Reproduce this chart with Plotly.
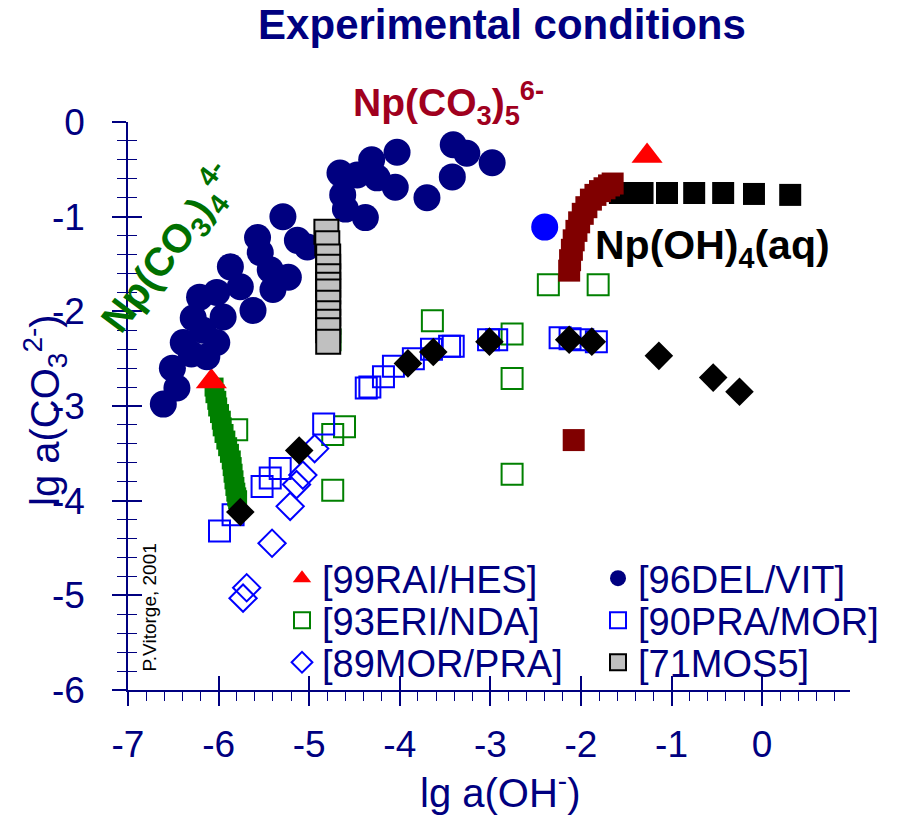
import plotly.graph_objects as go

# ---------------- data ----------------
del_vit_x = [-6.61, -6.46, -6.51, -6.39, -6.28, -6.21, -6.02, -6.02, -6.13, -5.95,
             -6.17, -6.30, -5.87, -5.76, -5.62, -5.57, -5.54, -5.40, -5.23, -5.43,
             -5.29, -5.13, -5.02, -4.66, -4.63, -4.60, -4.38, -4.31, -4.25, -4.47,
             -4.05, -4.03, -3.70, -3.41, -3.26, -3.42, -2.98]
del_vit_y = [-2.98, -2.81, -2.60, -2.33, -2.07, -1.85, -1.80, -2.33, -2.48, -2.06,
             -2.20, -2.45, -1.53, -1.74, -1.99, -1.22, -1.38, -1.77, -1.64, -1.56,
             -1.00, -1.25, -1.32, -0.54, -0.77, -0.92, -1.01, -0.40, -0.59, -0.56,
             -0.69, -0.32, -0.80, -0.24, -0.33, -0.58, -0.43]

rai_hes_x = [-6.08, -1.27]
rai_hes_y = [-2.74, -0.36]

eri_nda_x = [-4.77, -5.80, -4.74, -4.61, -4.74, -3.64, -2.76, -2.76, -2.36, -1.81, -2.76]
eri_nda_y = [-2.30, -3.25, -3.30, -3.22, -3.89, -2.10, -2.24, -2.71, -1.72, -1.72, -3.72]

pra_mor_x = [-5.99, -5.84, -5.52, -5.43, -5.32, -4.84, -4.37, -4.33, -4.18, -4.07,
             -3.85, -3.65, -3.45, -3.41, -3.02, -2.93, -2.23, -2.12, -1.98, -1.83]
pra_mor_y = [-4.32, -4.15, -3.85, -3.76, -3.66, -3.19, -2.81, -2.80, -2.69, -2.58,
             -2.50, -2.40, -2.37, -2.37, -2.30, -2.30, -2.28, -2.29, -2.30, -2.32]

mor_pra_x = [-5.41, -5.21, -5.14, -5.07, -4.94, -5.69, -5.73]
mor_pra_y = [-4.45, -4.06, -3.83, -3.73, -3.45, -4.92, -5.03]

mos5_x = [-4.81, -4.80, -4.79, -4.79, -4.79, -4.79, -4.79, -4.79, -4.79, -4.79, -4.79, -4.79]
mos5_y = [-1.16, -1.28, -1.42, -1.53, -1.63, -1.72, -1.79, -1.91, -2.02, -2.11, -2.20, -2.32]

# unlabelled calculated curves / points
green_band_x = [-6.05, -6.04, -6.02, -6.01, -5.99, -5.97, -5.96, -5.94, -5.92, -5.90,
                -5.88, -5.86, -5.85, -5.84, -5.83, -5.82, -5.81, -5.80, -5.79]
green_band_y = [-2.80, -2.87, -2.94, -3.01, -3.08, -3.15, -3.22, -3.29, -3.36, -3.43,
                -3.50, -3.57, -3.64, -3.71, -3.78, -3.85, -3.91, -3.96, -3.99]

red_band_x = [-2.13, -2.12, -2.10, -2.08, -2.05, -2.02, -1.98, -1.94, -1.89, -1.84,
              -1.79, -1.74, -1.69, -1.65]
red_band_y = [-1.57, -1.46, -1.35, -1.25, -1.15, -1.06, -0.97, -0.90, -0.82, -0.77,
              -0.73, -0.70, -0.67, -0.65]
red_single_x = [-2.08]
red_single_y = [-3.36]

black_sq_x = [-1.57, -1.46, -1.32, -1.05, -0.75, -0.43, -0.09, 0.31]
black_sq_y = [-0.75, -0.75, -0.75, -0.75, -0.75, -0.75, -0.76, -0.77]

black_dia_x = [-5.76, -5.11, -3.91, -3.63, -3.01, -2.13, -1.88, -1.14, -0.54, -0.25]
black_dia_y = [-4.12, -3.47, -2.55, -2.43, -2.32, -2.30, -2.32, -2.47, -2.70, -2.85]

blue_dot_x = [-2.40]
blue_dot_y = [-1.11]

x_tickvals = [-7, -6, -5, -4, -3, -2, -1, 0]
x_ticktext = ["-7", "-6", "-5", "-4", "-3", "-2", "-1", "0"]
y_tickvals = [-6, -5, -4, -3, -2, -1, 0]
y_ticktext = ["-6", "-5", "-4", "-3", "-2", "-1", "0"]

# ---------------- styling ----------------
NAVY = "#000080"
FONT = "Liberation Sans, Arial, sans-serif"
L, R, T, B, W, H = 128, 53, 122, 127, 903, 817
PW, PH = W - L - R, H - T - B


def px_x(p):
    return (p - L) / PW


def px_y(p):
    return (H - B - p) / PH


fig = go.Figure()


def add(x, y, name, symbol, size, color, line_color=None, line_width=0, legend=None):
    fig.add_trace(go.Scatter(
        x=x, y=y, mode="markers", name=name, showlegend=legend is not None,
        legend=legend or "legend", cliponaxis=False,
        marker=dict(symbol=symbol, size=size, color=color,
                    line=dict(color=line_color or color, width=line_width)),
    ))


add(eri_nda_x, eri_nda_y, "[93ERI/NDA]", "square-open", 21, "#008000",
    "#008000", 2, legend="legend3")
add(pra_mor_x, pra_mor_y, "[90PRA/MOR]", "square-open", 21, "#0000FF",
    "#0000FF", 2, legend="legend4")
add(mor_pra_x, mor_pra_y, "[89MOR/PRA]", "diamond-open", 21, "#0000FF",
    "#0000FF", 2, legend="legend5")
add(green_band_x, green_band_y, "green", "square", 19, "#008000")
add(rai_hes_x, rai_hes_y, "[99RAI/HES]", "triangle-up", 27, "#FF0000",
    legend="legend")
add(del_vit_x, del_vit_y, "[96DEL/VIT]", "circle", 27, NAVY, legend="legend2")
add(mos5_x, mos5_y, "[71MOS5]", "square", 24, "#C0C0C0", "#000000", 2,
    legend="legend6")
add(black_sq_x, black_sq_y, "black squares", "square", 22, "#000000")
add(red_band_x, red_band_y, "red band", "square", 22, "#800000")
add(red_single_x, red_single_y, "red single", "square", 22, "#800000")
add(black_dia_x, black_dia_y, "black diamonds", "diamond", 22, "#000000")
add(blue_dot_x, blue_dot_y, "blue dot", "circle", 27, "#0000FF")

# invisible trace to carry the overlay axes (inner halves of crossing ticks)
fig.add_trace(go.Scatter(x=[None], y=[None], xaxis="x2", yaxis="y2",
                         showlegend=False, hoverinfo="skip"))

axis_common = dict(showgrid=False, zeroline=False, showline=True,
                   linecolor=NAVY, linewidth=1.5, tickcolor=NAVY, tickwidth=1.5,
                   tickfont=dict(family=FONT, size=37, color=NAVY))

legend_common = dict(orientation="v", xanchor="left", yanchor="top",
                     bgcolor="rgba(0,0,0,0)",
                     font=dict(family=FONT, size=38, color=NAVY),
                     itemclick=False, itemdoubleclick=False)

col_x = [282, 598]
row_top = [547, 589, 631]
legends = {}
names = ["legend", "legend2", "legend3", "legend4", "legend5", "legend6"]
for i, nm in enumerate(names):
    legends[nm] = dict(x=px_x(col_x[i % 2]), y=px_y(row_top[i // 2]), **legend_common)

fig.update_layout(
    width=W, height=H,
    margin=dict(l=L, r=R, t=T, b=B, autoexpand=False),
    paper_bgcolor="white", plot_bgcolor="white",
    font=dict(family=FONT, color=NAVY),
    title=dict(text="Experimental conditions", x=502 / W, xref="container",
               y=1 - 24 / H, yref="container", xanchor="center", yanchor="middle",
               font=dict(family=FONT, size=42, color=NAVY, weight="bold")),
    xaxis=dict(range=[-7, 0.97], tickvals=x_tickvals, ticktext=x_ticktext,
               ticks="outside", ticklen=14, ticklabelstandoff=7,
               minor=dict(ticks="outside", ticklen=9, dtick=0.2, tick0=0,
                          tickcolor=NAVY, tickwidth=1),
               **axis_common),
    yaxis=dict(range=[-6, 0], tickvals=y_tickvals, ticktext=y_ticktext,
               ticks="outside", ticklen=14, ticklabelstandoff=20,
               minor=dict(ticks="outside", ticklen=9, dtick=0.2, tick0=0,
                          tickcolor=NAVY, tickwidth=1),
               **axis_common),
    xaxis2=dict(range=[-7, 0.97], overlaying="x", anchor="y2", side="bottom",
                showgrid=False, zeroline=False, showline=False,
                tickvals=x_tickvals, ticks="inside", ticklen=14, tickwidth=1.5,
                tickcolor=NAVY, showticklabels=False),
    yaxis2=dict(range=[-6, 0], overlaying="y", anchor="x2", side="left",
                showgrid=False, zeroline=False, showline=False,
                tickvals=y_tickvals, ticks="inside", ticklen=14, tickwidth=1.5,
                tickcolor=NAVY, showticklabels=False,
                minor=dict(ticks="inside", ticklen=9, dtick=0.2, tick0=0,
                           tickcolor=NAVY, tickwidth=1)),
    showlegend=True,
    **legends,
)

annotations = [
    dict(x=px_x(448), y=px_y(103), xref="paper", yref="paper", showarrow=False,
         xanchor="center", yanchor="middle",
         text="Np(CO<sub>3</sub>)<sub>5</sub><sup>6-</sup>",
         font=dict(family=FONT, size=39, color="#A0001E", weight="bold")),
    dict(x=-0.55, y=-1.33, xref="x", yref="y", showarrow=False,
         xanchor="center", yanchor="middle",
         text="Np(OH)<sub>4</sub>(aq)",
         font=dict(family=FONT, size=41, color="#000000", weight="bold")),
    dict(x=-6.55, y=-1.34, xref="x", yref="y", showarrow=False, textangle=-53,
         xanchor="center", yanchor="middle",
         text="Np(CO<sub>3</sub>)<sub>4</sub><sup>4-</sup>",
         font=dict(family=FONT, size=40, color="#007000", weight="bold")),
    dict(x=-6.76, y=-5.13, xref="x", yref="y", showarrow=False, textangle=-90,
         xanchor="center", yanchor="middle",
         text="P.Vitorge, 2001",
         font=dict(family=FONT, size=19, color="#000000")),
    dict(x=px_x(500), y=px_y(790), xref="paper", yref="paper",
         xanchor="center", yanchor="middle",
         showarrow=False, text="lg a(OH<sup>-</sup>)",
         font=dict(family=FONT, size=40, color=NAVY)),
    dict(x=px_x(45), y=px_y(410), xref="paper", yref="paper",
         xanchor="center", yanchor="middle",
         showarrow=False, textangle=-90, text="lg a(CO<sub>3</sub><sup>2-</sup>)",
         font=dict(family=FONT, size=40, color=NAVY)),
]
fig.update_layout(annotations=annotations)

fig.write_html("out.html")
